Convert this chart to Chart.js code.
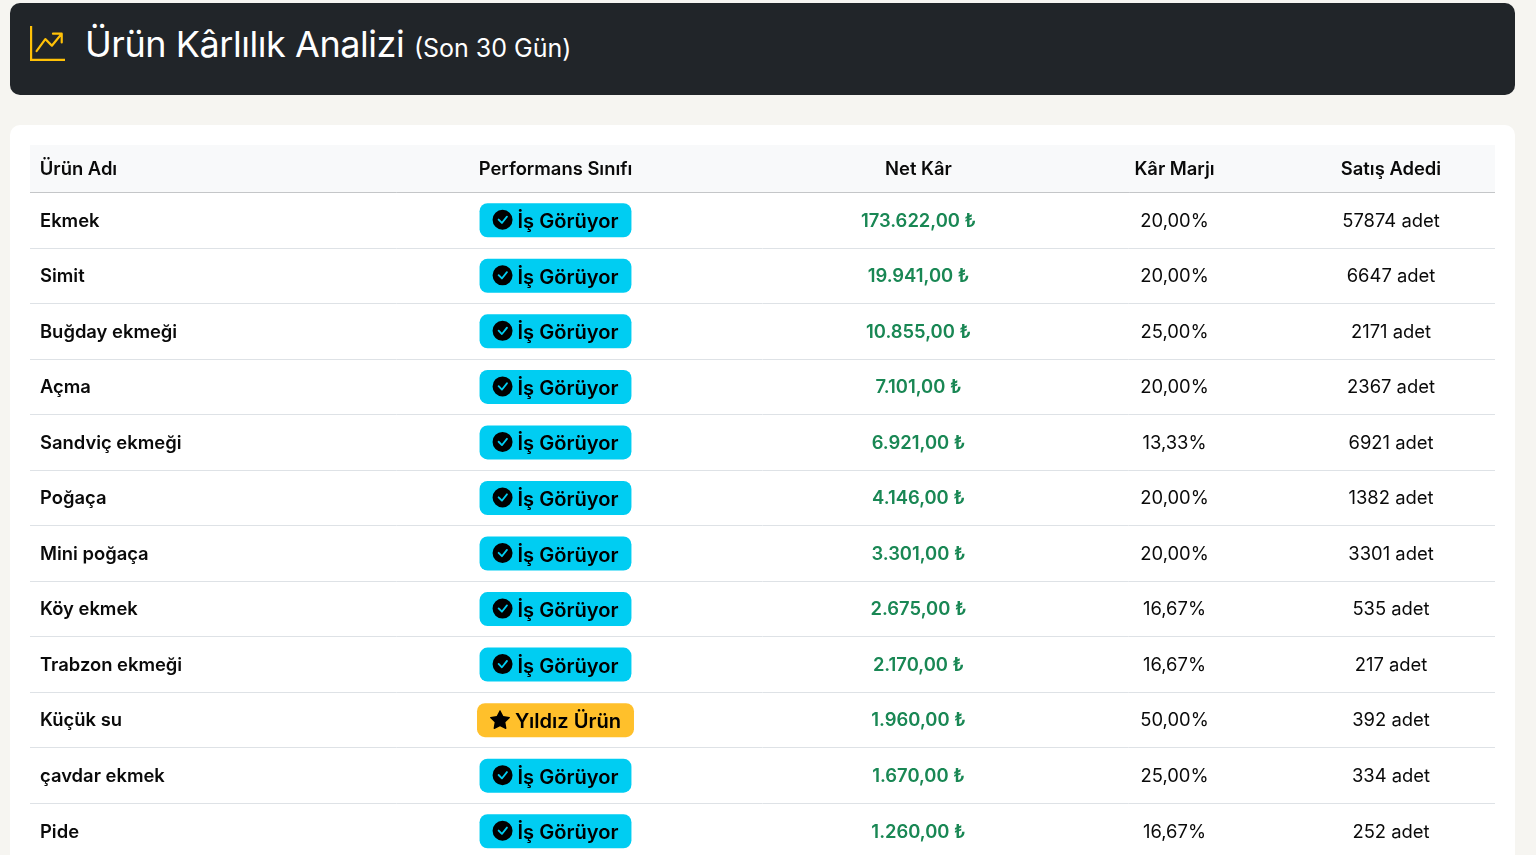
<!DOCTYPE html>
<html lang="tr">
<head>
<meta charset="utf-8">
<title>Ürün Kârlılık Analizi</title>
<script src="https://cdn.jsdelivr.net/npm/chart.js@4/dist/chart.umd.min.js"></script>
<style>
    html, body { margin: 0; height: 855px; overflow: hidden; background: #f6f5f1; font-family: Inter, sans-serif; }
    .banner { position: absolute; left: 10px; top: 3px; width: 1505px; height: 92px; background: #212529; border-radius: 10px; color: #fff; }
    .banner svg { position: absolute; left: 20px; top: 23px; width: 35px; height: 35px; fill: #ffc107; }
    .banner h1 { position: absolute; left: 75px; top: 16px; margin: 0; font-size: 36px; line-height: 50px; font-weight: 400; letter-spacing: -0.45px; white-space: nowrap; }
    .banner small { font-size: 25px; letter-spacing: 0; }
    .card { position: absolute; left: 10px; top: 125px; width: 1505px; height: 760px; background: #fff; border-radius: 10px; }
    #tableChart { position: absolute; left: 20px; top: 20px; }
</style>
</head>
<body>
<div class="banner">
    <svg viewBox="0 0 16 16"><path fill-rule="evenodd" d="M0 0h1v15h15v1H0V0Zm10 3.5a.5.5 0 0 1 .5-.5h4a.5.5 0 0 1 .5.5v4a.5.5 0 0 1-1 0V4.9l-3.613 4.417a.5.5 0 0 1-.74.037L7.06 6.767l-3.656 5.027a.5.5 0 0 1-.808-.588l4-5.5a.5.5 0 0 1 .758-.06l2.609 2.61L13.445 4H10.5a.5.5 0 0 1-.5-.5Z"/></svg>
    <h1>Ürün Kârlılık Analizi <small>(Son 30 Gün)</small></h1>
</div>
<div class="card"><canvas id="tableChart" width="1465" height="714"></canvas></div>

<script>
// Table data
const columnHeaders = ['Ürün Adı', 'Performans Sınıfı', 'Net Kâr', 'Kâr Marjı', 'Satış Adedi'];
const productNames = ['Ekmek', 'Simit', 'Buğday ekmeği', 'Açma', 'Sandviç ekmeği', 'Poğaça', 'Mini poğaça', 'Köy ekmek', 'Trabzon ekmeği', 'Küçük su', 'çavdar ekmek', 'Pide'];
const performanceClasses = ['İş Görüyor', 'İş Görüyor', 'İş Görüyor', 'İş Görüyor', 'İş Görüyor', 'İş Görüyor', 'İş Görüyor', 'İş Görüyor', 'İş Görüyor', 'Yıldız Ürün', 'İş Görüyor', 'İş Görüyor'];
const netProfits = [173622, 19941, 10855, 7101, 6921, 4146, 3301, 2675, 2170, 1960, 1670, 1260];
const profitMargins = [20, 20, 25, 20, 13.33, 20, 20, 16.67, 16.67, 50, 25, 16.67];
const salesCounts = [57874, 6647, 2171, 2367, 6921, 1382, 3301, 535, 217, 392, 334, 252];

// Column centres on the x scale (1 unit = 1px of table width)
const columnCentres = [48.5, 525.5, 888.5, 1144.5, 1361];

const money = v => v.toLocaleString('tr-TR', { minimumFractionDigits: 2, maximumFractionDigits: 2 });

const checkIcon = new Path2D('M16 8A8 8 0 1 1 0 8a8 8 0 0 1 16 0zm-3.97-3.03a.75.75 0 0 0-1.08.022L7.477 9.417 5.384 7.323a.75.75 0 0 0-1.06 1.06L6.97 11.03a.75.75 0 0 0 1.079-.02l3.992-4.99a.75.75 0 0 0-.01-1.05z');
const starIcon = new Path2D('M3.612 15.443c-.386.198-.824-.149-.746-.592l.83-4.73L.173 6.765c-.329-.314-.158-.888.283-.95l4.898-.696L7.538.792c.197-.39.73-.39.927 0l2.184 4.327 4.898.696c.441.062.612.636.282.95l-3.522 3.356.83 4.73c.078.443-.36.79-.746.592L8 13.187l-4.389 2.256z');

function drawBadge(ctx, x, y, label) {
    const isStar = label === 'Yıldız Ürün';
    ctx.font = '600 20.1px Inter';
    const textWidth = ctx.measureText(label).width;
    const width = textWidth + 51;
    const left = x - width / 2;
    ctx.fillStyle = isStar ? '#ffc02b' : '#00cdf2';
    ctx.beginPath();
    ctx.roundRect(left, y - 17, width, 34, 8);
    ctx.fill();

    ctx.save();
    ctx.translate(left + 13, y - 10.5);
    ctx.scale(20 / 16, 20 / 16);
    ctx.fillStyle = '#000';
    ctx.fill(isStar ? starIcon : checkIcon);
    ctx.restore();

    ctx.fillStyle = '#000';
    ctx.textAlign = 'left';
    ctx.textBaseline = 'middle';
    ctx.fillText(label, left + 38, y + 2);
}

// Draws the cell contents at the points the scales worked out
const cellPlugin = {
    id: 'cells',
    beforeDraw(chart) {
        const { ctx, scales: { x } } = chart;
        ctx.fillStyle = '#f8f9fa';
        ctx.fillRect(x.left, x.top, x.width, x.height);
    },
    afterDatasetsDraw(chart) {
        const { ctx } = chart;
        ctx.save();
        chart.data.datasets.forEach((dataset, i) => {
            chart.getDatasetMeta(i).data.forEach((point, row) => {
                if (dataset.cell === 'badge') {
                    drawBadge(ctx, point.x, point.y, performanceClasses[row]);
                    return;
                }
                ctx.textAlign = 'center';
                ctx.textBaseline = 'middle';
                ctx.font = dataset.cell === 'profit' ? '600 18.4px Inter' : '400 18.4px Inter';
                ctx.fillStyle = dataset.cell === 'profit' ? '#198754' : '#0a0a0a';
                let text = `${salesCounts[row]} adet`;
                if (dataset.cell === 'profit') text = `${money(netProfits[row])} ₺`;
                if (dataset.cell === 'margin') text = `${money(profitMargins[row])}%`;
                ctx.fillText(text, point.x, point.y + 0.75);
            });
        });
        ctx.restore();
    }
};

const columnDataset = (cell, column) => ({
    cell,
    data: productNames.map(name => ({ x: columnCentres[column], y: name })),
    pointRadius: 0,
    pointHoverRadius: 0
});

new Chart(document.getElementById('tableChart'), {
    type: 'scatter',
    data: {
        datasets: [
            columnDataset('badge', 1),
            columnDataset('profit', 2),
            columnDataset('margin', 3),
            columnDataset('sales', 4)
        ]
    },
    options: {
        responsive: false,
        animation: false,
        events: [],
        layout: { padding: 0 },
        plugins: { legend: { display: false }, tooltip: { enabled: false } },
        scales: {
            x: {
                type: 'linear',
                position: 'top',
                min: 0,
                max: 1465,
                afterFit: scale => {
                    scale.height = 47.5;
                    scale.paddingLeft = 0;
                    scale.paddingRight = 0;
                },
                afterBuildTicks: scale => { scale.ticks = columnCentres.map(value => ({ value })); },
                grid: { display: false, drawTicks: false },
                border: { display: true, color: '#c4c6c8', width: 1 },
                ticks: {
                    autoSkip: false,
                    maxRotation: 0,
                    padding: 12,
                    color: '#0a0a0a',
                    font: { family: 'Inter', size: 18.4, weight: '600' },
                    callback: (value, index) => columnHeaders[index]
                }
            },
            y: {
                type: 'category',
                labels: productNames,
                offset: true,
                afterFit: scale => {
                    scale.width = 0;
                    scale.paddingTop = 0;
                    scale.paddingBottom = 0;
                },
                grid: { offset: true, color: '#dee2e6', drawTicks: false },
                border: { display: false },
                ticks: {
                    mirror: true,
                    padding: 10,
                    labelOffset: 0.75,
                    autoSkip: false,
                    color: '#0a0a0a',
                    font: { family: 'Inter', size: 18.4, weight: '600' }
                }
            }
        }
    },
    plugins: [cellPlugin]
});
</script>
</body>
</html>
